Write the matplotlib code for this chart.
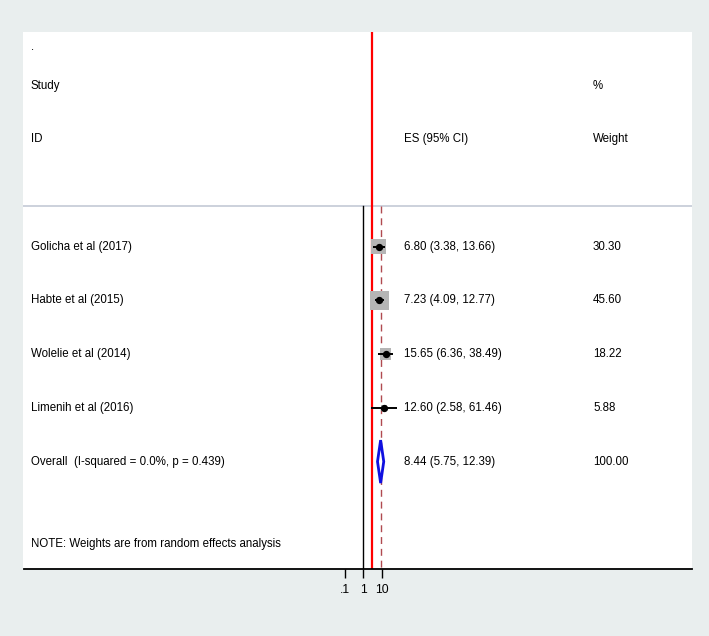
import matplotlib.pyplot as plt
import numpy as np

# Data
studies = ['Golicha et al (2017)', 'Habte et al (2015)', 'Wolelie et al (2014)', 'Limenih et al (2016)']
es = [6.80, 7.23, 15.65, 12.60]
ci_low = [3.38, 4.09, 6.36, 2.58]
ci_high = [13.66, 12.77, 38.49, 61.46]
weights = [30.30, 45.60, 18.22, 5.88]
overall_label = 'Overall  (I-squared = 0.0%, p = 0.439)'
overall_es, overall_low, overall_high = 8.44, 5.75, 12.39
ref_line = 2.8  # red reference line
tick_vals = [0.1, 1, 10]
tick_labels = ['.1', '1', '10']

plt.rcParams['font.family'] = ['Liberation Sans', 'DejaVu Sans']
fs = 8.3

fig = plt.figure(figsize=(7.09, 6.36), dpi=100)
fig.patch.set_facecolor('#e9eeee')
ax = fig.add_axes([23.5 / 709, 1 - 569 / 636, (692 - 23.5) / 709, (569 - 32) / 636])
ax.set_facecolor('white')

# x in log10 units, 18.7 px per decade, 1 at x = 363.3 px
decade = 18.7
ax.set_xlim((23.5 - 363.3) / decade, (692 - 363.3) / decade)
ax.set_ylim(6, -4)

for s in ['top', 'left', 'right']:
    ax.spines[s].set_visible(False)
ax.spines['bottom'].set_linewidth(1.3)
ax.set_yticks([])
ax.set_xticks(np.log10(tick_vals))
ax.set_xticklabels(tick_labels, fontsize=fs + 0.4)
ax.tick_params(axis='x', direction='out', length=6.5, width=1, pad=4)

sep_y = -0.76
ax.axhline(sep_y, color='#c3cad6', linewidth=1.2, zorder=1)

# reference lines
ax.plot([0, 0], [sep_y, 6], color='black', linewidth=1, zorder=2)
ax.plot([np.log10(ref_line)] * 2, [-4, 6], color='red', linewidth=1.6, zorder=2)
ax.plot([np.log10(overall_es)] * 2, [sep_y, 6], color='#b04a50', linewidth=1,
        linestyle=(0, (5, 3.5)), zorder=2)

rows = np.arange(len(studies))
ax.scatter(np.log10(es), rows, marker='s', s=np.array(weights) * 3.8, color='#b5b5b5',
           edgecolors='none', zorder=3)
ax.hlines(rows, np.log10(ci_low), np.log10(ci_high), color='black', linewidth=1.4, zorder=4)
ax.scatter(np.log10(es), rows, marker='o', s=18, color='black', zorder=5)

# overall diamond
oy = len(studies)
dx = [np.log10(overall_low), np.log10(overall_es), np.log10(overall_high), np.log10(overall_es)]
dy = [oy, oy - 0.4, oy, oy + 0.4]
ax.fill(dx, dy, facecolor='white', edgecolor='#1010e0', linewidth=2, zorder=4)

# text columns
tr = ax.get_yaxis_transform()
lx = (31 - 23.5) / (692 - 23.5)
esx = (404 - 23.5) / (692 - 23.5)
wx = (593 - 23.5) / (692 - 23.5)

ax.text(lx, -3.72, '.', transform=tr, fontsize=fs, va='center')
ax.text(lx, -3, 'Study', transform=tr, fontsize=fs, va='center')
ax.text(lx, -2, 'ID', transform=tr, fontsize=fs, va='center')
ax.text(esx, -2, 'ES (95% CI)', transform=tr, fontsize=fs, va='center')
ax.text(wx, -3, '%', transform=tr, fontsize=fs, va='center')
ax.text(wx, -2, 'Weight', transform=tr, fontsize=fs, va='center')

for i, name in enumerate(studies):
    ax.text(lx, i, name, transform=tr, fontsize=fs, va='center')
    ax.text(esx, i, f'{es[i]:.2f} ({ci_low[i]:.2f}, {ci_high[i]:.2f})', transform=tr,
            fontsize=fs, va='center')
    ax.text(wx, i, f'{weights[i]:.2f}', transform=tr, fontsize=fs, va='center')

ax.text(lx, oy, overall_label, transform=tr, fontsize=fs, va='center')
ax.text(esx, oy, f'{overall_es:.2f} ({overall_low:.2f}, {overall_high:.2f})', transform=tr,
        fontsize=fs, va='center')
ax.text(wx, oy, f'{sum(weights):.2f}', transform=tr, fontsize=fs, va='center')
ax.text(lx, 5.53, 'NOTE: Weights are from random effects analysis', transform=tr,
        fontsize=fs, va='center')

fig.savefig('out.png', dpi=100, facecolor=fig.get_facecolor())
